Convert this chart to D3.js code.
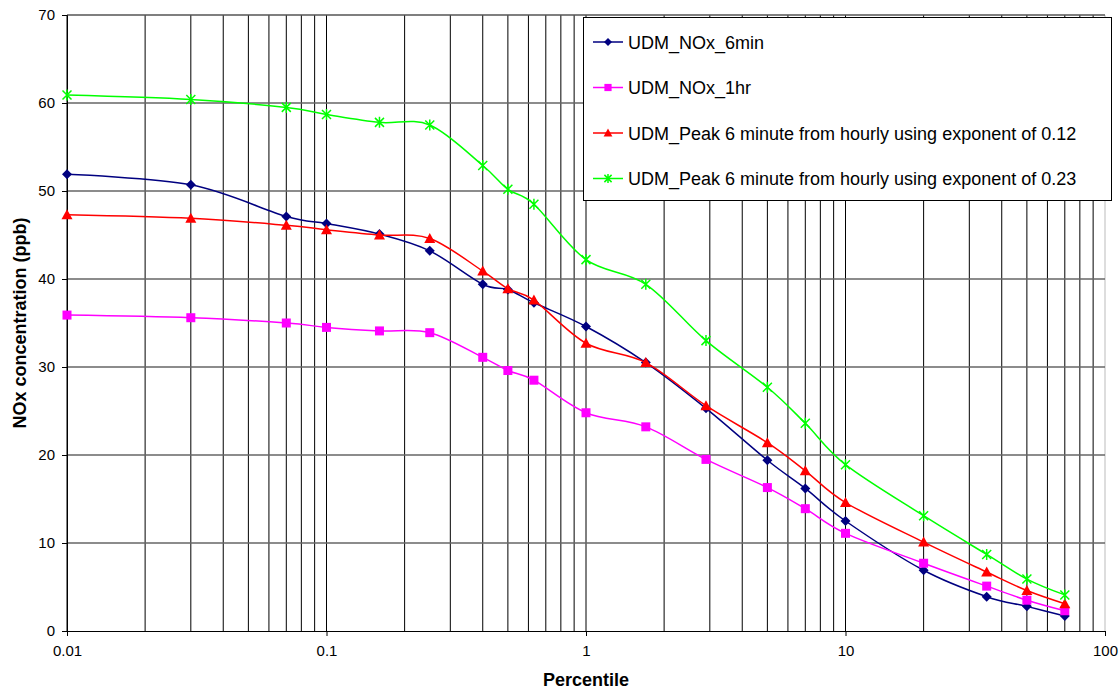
<!DOCTYPE html>
<html>
<head>
<meta charset="utf-8">
<script src="https://cdn.jsdelivr.net/npm/d3@7"></script>
<style>
	body { margin: 0; background: #fff; }
	svg { font-family: "Liberation Sans", Arial, sans-serif; display: block; }
</style>
</head>
<body>
<div id="graphic"></div>
<script>
// percentiles along the x axis (log scale)
const percentiles = [0.01, 0.03, 0.07, 0.1, 0.16, 0.25, 0.4, 0.5, 0.63, 1, 1.7, 2.9, 5, 7, 10, 20, 35, 50, 70];

// NOx concentrations (ppb)
const nox6min = [51.9, 50.7, 47.1, 46.3, 45.1, 43.2, 39.4, 38.8, 37.3, 34.6, 30.5, 25.3, 19.4, 16.2, 12.5, 6.9, 3.9, 2.8, 1.7];
const nox1hr = [35.9, 35.6, 35.0, 34.5, 34.1, 33.9, 31.1, 29.6, 28.5, 24.8, 23.2, 19.5, 16.3, 13.9, 11.1, 7.7, 5.1, 3.5, 2.3];
const peak012 = [47.3, 46.9, 46.1, 45.6, 45.0, 44.6, 40.9, 38.9, 37.6, 32.7, 30.5, 25.6, 21.4, 18.2, 14.6, 10.1, 6.7, 4.6, 3.1];
const peak023 = [60.9, 60.4, 59.5, 58.7, 57.8, 57.5, 52.9, 50.2, 48.5, 42.2, 39.4, 33.0, 27.7, 23.6, 18.9, 13.1, 8.7, 5.9, 4.1];

const seriesNames = [
	"UDM_NOx_6min",
	"UDM_NOx_1hr",
	"UDM_Peak 6 minute from hourly using exponent of 0.12",
	"UDM_Peak 6 minute from hourly using exponent of 0.23"
];
const seriesValues = [nox6min, nox1hr, peak012, peak023];
const seriesColours = ["#000080", "#ff00ff", "#ff0000", "#00ff00"];
const seriesMarkers = ["diamond", "square", "triangle", "star"];

const xTicks = [0.01, 0.1, 1, 10, 100];
const yTicks = [0, 10, 20, 30, 40, 50, 60, 70];

const width = 1120, height = 692;
const margin = { top: 15, right: 15, bottom: 61, left: 67 };
const chartWidth = width - margin.left - margin.right;
const chartHeight = height - margin.top - margin.bottom;

const svg = d3.select('#graphic').append('svg')
	.attr('width', width)
	.attr('height', height);

const g = svg.append('g').attr('transform', `translate(${margin.left},${margin.top})`);

const x = d3.scaleLog().domain([0.01, 100]).range([0, chartWidth]);
const y = d3.scaleLinear().domain([0, 70]).range([chartHeight, 0]);

// vertical grid at every log minor tick
const minorTicks = [];
[0.01, 0.1, 1, 10].forEach(dec => {
	for (let k = 1; k <= 9; k++) minorTicks.push(dec * k);
});
minorTicks.push(100);

g.append('g').attr('class', 'x grid')
	.selectAll('line')
	.data(minorTicks)
	.join('line')
	.attr('x1', d => x(d)).attr('x2', d => x(d))
	.attr('y1', 0).attr('y2', chartHeight)
	.attr('stroke', d => d === 100 ? '#bbb' : '#000')
	.attr('stroke-width', 1);

// horizontal grid
g.append('g').attr('class', 'y grid')
	.selectAll('line')
	.data(yTicks.filter(d => d > 0))
	.join('line')
	.attr('x1', 0).attr('x2', chartWidth)
	.attr('y1', d => y(d)).attr('y2', d => y(d))
	.attr('stroke', d => d === 70 ? '#555' : '#666')
	.attr('stroke-width', 1.3);

// y axis
const yAxis = d3.axisLeft(y).tickValues(yTicks).tickSize(5).tickPadding(7);
const yG = g.append('g').call(yAxis);
yG.select('.domain').attr('stroke', '#000');
yG.selectAll('text').attr('font-size', 15).attr('fill', '#000');

// x axis
const xAxis = d3.axisBottom(x).tickValues(xTicks).tickSize(5).tickPadding(9)
	.tickFormat(d => String(d));
const xG = g.append('g').attr('transform', `translate(0,${chartHeight})`).call(xAxis);
xG.select('.domain').attr('stroke', '#000');
xG.selectAll('text').attr('font-size', 15).attr('fill', '#000');

// axis titles
svg.append('text')
	.attr('x', margin.left + chartWidth / 2)
	.attr('y', 686)
	.attr('text-anchor', 'middle')
	.attr('font-size', 18)
	.attr('font-weight', 'bold')
	.text('Percentile');

svg.append('text')
	.attr('transform', `translate(26,${margin.top + chartHeight / 2}) rotate(-90)`)
	.attr('text-anchor', 'middle')
	.attr('font-size', 18)
	.attr('font-weight', 'bold')
	.text('NOx concentration (ppb)');

// line generator, smoothed like the original
const line = d3.line()
	.x(d => x(d.p))
	.y(d => y(d.v))
	.curve(d3.curveCardinal.tension(0));

function drawMarker(sel, type, colour, s) {
	if (type === 'diamond') {
		sel.append('path').attr('d', `M0,${-5 * s}L${5 * s},0L0,${5 * s}L${-5 * s},0Z`).attr('fill', colour);
	} else if (type === 'square') {
		sel.append('rect').attr('x', -4.5 * s).attr('y', -4.5 * s).attr('width', 9 * s).attr('height', 9 * s).attr('fill', colour);
	} else if (type === 'triangle') {
		sel.append('path').attr('d', `M0,${-5.5 * s}L${5.5 * s},${4.5 * s}L${-5.5 * s},${4.5 * s}Z`).attr('fill', colour);
	} else {
		sel.append('path')
			.attr('d', `M${-4.5 * s},${-4.5 * s}L${4.5 * s},${4.5 * s}M${-4.5 * s},${4.5 * s}L${4.5 * s},${-4.5 * s}M0,${-5.5 * s}L0,${5.5 * s}`)
			.attr('stroke', colour).attr('stroke-width', 1.5).attr('fill', 'none');
	}
}

seriesValues.forEach((vals, i) => {
	const data = percentiles.map((p, j) => ({ p: p, v: vals[j] }));
	const sg = g.append('g');
	sg.append('path')
		.datum(data)
		.attr('d', line)
		.attr('fill', 'none')
		.attr('stroke', seriesColours[i])
		.attr('stroke-width', 1.5);
	sg.selectAll('.marker')
		.data(data)
		.join('g')
		.attr('class', 'marker')
		.attr('transform', d => `translate(${x(d.p)},${y(d.v)})`)
		.each(function () { drawMarker(d3.select(this), seriesMarkers[i], seriesColours[i], 1); });
});

// legend
const legend = svg.append('g').attr('transform', 'translate(583,17)');
legend.append('rect')
	.attr('x', 0.5).attr('y', 0.5)
	.attr('width', 528).attr('height', 183)
	.attr('fill', '#fff')
	.attr('stroke', '#000');

seriesNames.forEach((name, i) => {
	const ly = 25 + i * 45.5;
	const item = legend.append('g').attr('transform', `translate(0,${ly})`);
	item.append('line')
		.attr('x1', 10).attr('x2', 40)
		.attr('stroke', seriesColours[i]).attr('stroke-width', 1.5);
	drawMarker(item.append('g').attr('transform', 'translate(25,0)'), seriesMarkers[i], seriesColours[i], 0.8);
	item.append('text')
		.attr('x', 45)
		.attr('y', 6.5)
		.attr('font-size', 18)
		.text(name);
});
</script>
</body>
</html>
